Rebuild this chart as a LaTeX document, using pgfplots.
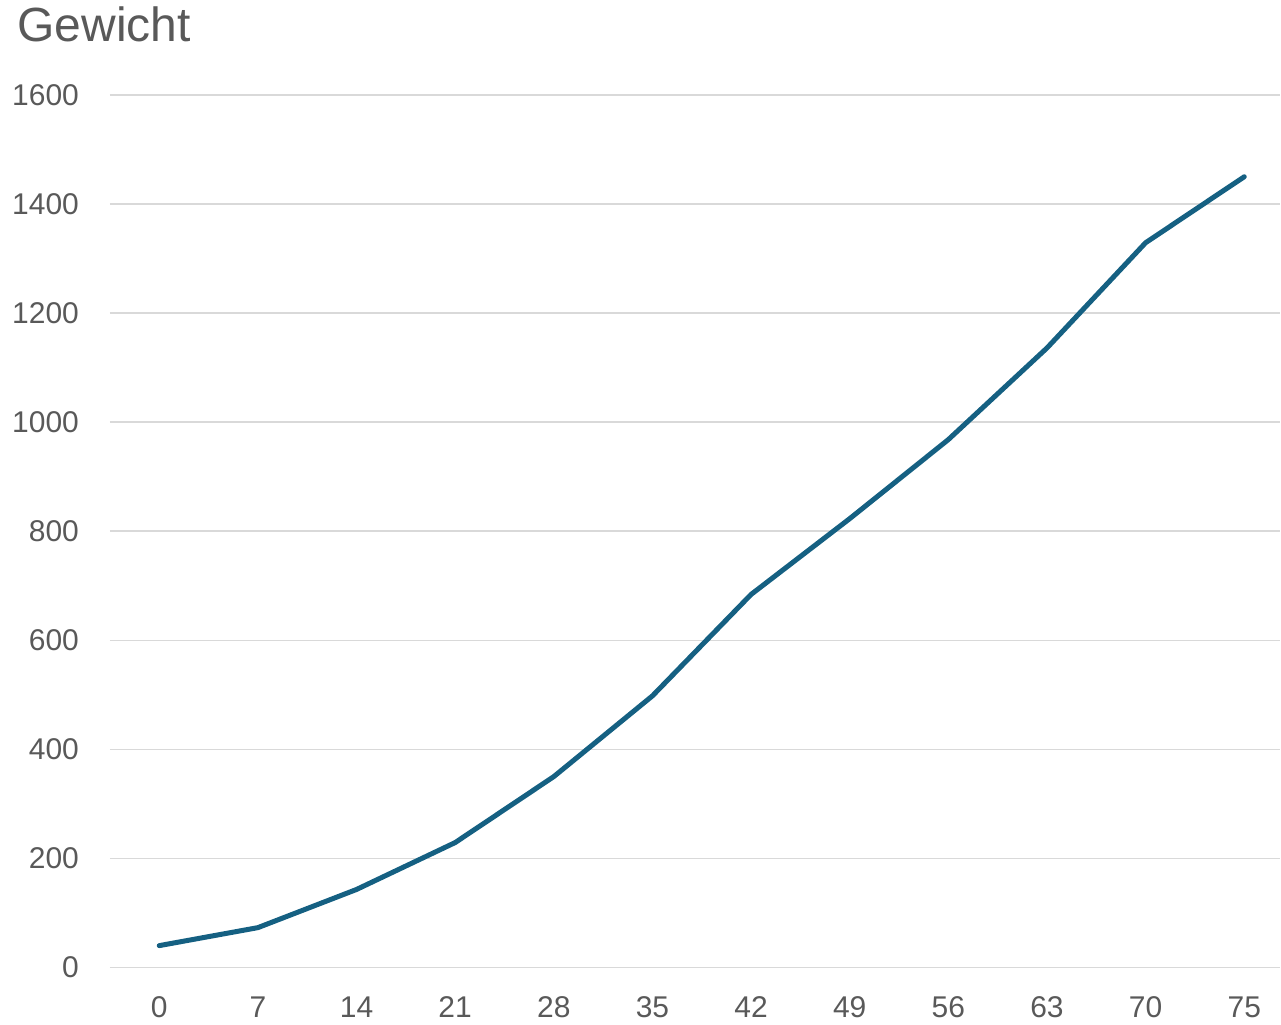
\documentclass[border=0pt]{standalone}
\usepackage{pgfplots}
\pgfplotsset{compat=1.18}
\usepackage{fontspec}
\setmainfont{Liberation Sans}
\definecolor{linec}{HTML}{156082}
\definecolor{txt}{HTML}{595959}
\definecolor{gridc}{HTML}{D9D9D9}
\begin{document}
\begin{tikzpicture}
\path (0,0) rectangle (640.5pt,512.5pt);
\node[anchor=base west, text=txt, font=\fontsize{24}{28}\selectfont, inner sep=0pt] at (8.5pt,491.5pt) {Gewicht};
\begin{axis}[
  at={(55pt,28.5pt)}, anchor=south west,
  scale only axis,
  width=585.5pt, height=436.5pt,
  xmin=-0.5, xmax=11.365,
  ymin=0, ymax=1600,
  ytick={0,200,...,1600},
  xtick={0,...,11},
  xticklabels={0,7,14,21,28,35,42,49,56,63,70,75},
  axis line style={draw=none},
  major tick length=0pt,
  ymajorgrids,
  grid style={gridc, line width=0.75pt},
  tick label style={text=txt, font=\fontsize{15}{17}\selectfont},
  /pgf/number format/assume math mode=true,
  /pgf/number format/1000 sep={},
  yticklabel style={xshift=-12pt},
  xticklabel style={yshift=-11pt},
  clip=false,
]
\addplot[linec, line width=2.5pt, line cap=round, line join=round] coordinates {
(0,40) (1,73) (2,143) (3,229) (4,350) (5,498) (6,684) (7,823) (8,968) (9,1136) (10,1329) (11,1450)
};
\end{axis}
\end{tikzpicture}
\end{document}
